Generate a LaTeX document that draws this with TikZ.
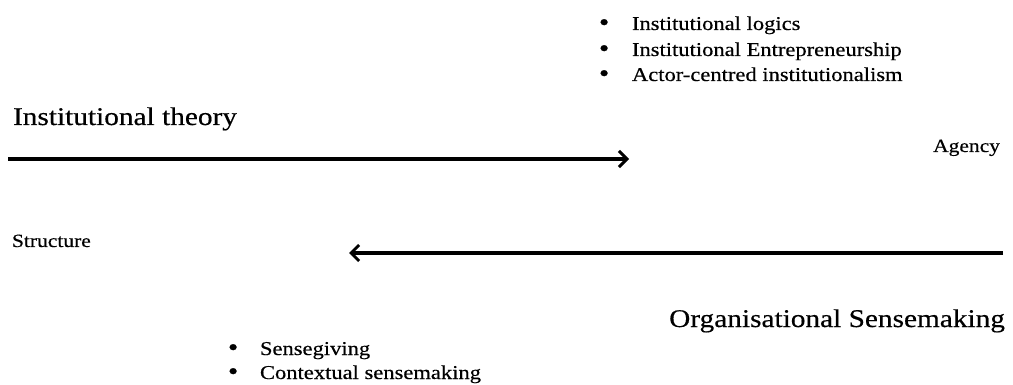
\documentclass[tikz,border=0pt]{standalone}
\usepackage{fontspec}
\setmainfont{Liberation Serif}[FakeStretch=1.15, FakeBold=0.45]
\usetikzlibrary{arrows.meta}

\tikzset{
  txt/.style={inner sep=0pt, outer sep=0pt, text=black},
  heading/.style={txt, font=\fontsize{25.5}{30}\selectfont},
  pole/.style={txt, font=\fontsize{18.7}{22}\selectfont},
  item/.style={txt, font=\fontsize{19.6}{24}\selectfont},
  flow/.style={line width=3.4pt, black,
    -{Straight Barb[length=8pt,width=16pt,line width=3pt]}},
}
\newcommand{\bulletitem}[2]{\makebox[#1][l]{\raisebox{-0.6pt}{\scalebox{1.3}{\textbullet}}}#2}

\begin{document}
\begin{tikzpicture}[x=1pt, y=-1pt]
  \useasboundingbox (0,0) rectangle (1013,385);

  % Institutional theory side: top list, heading and rightward arrow
  \node[item, anchor=base west] (il) at (599,30) {\bulletitem{33pt}{Institutional logics}};
  \node[item, anchor=base west] (ie) at (599,56) {\bulletitem{33pt}{Institutional Entrepreneurship}};
  \node[item, anchor=base west] (ac) at (599,81) {\bulletitem{33pt}{Actor-centred institutionalism}};
  \node[heading, anchor=base west] (it) at (13,125) {Institutional theory};

  \coordinate (itstart) at (8,159);
  \coordinate (itend) at (629,159);
  \draw[flow] (itstart) -- (itend);

  % Poles of the continuum
  \node[pole, anchor=base east] (agency) at (1000,152) {Agency};
  \node[pole, anchor=base west] (structure) at (12,247) {Structure};

  % Organisational sensemaking side: leftward arrow, heading and bottom list
  \coordinate (osstart) at (1003,253);
  \coordinate (osend) at (349,253);
  \draw[flow] (osstart) -- (osend);

  \node[heading, anchor=base east] (os) at (1005,327) {Organisational Sensemaking};
  \node[item, anchor=base west] (sg) at (228,355) {\bulletitem{32pt}{Sensegiving}};
  \node[item, anchor=base west] (cs) at (228,379) {\bulletitem{32pt}{Contextual sensemaking}};
\end{tikzpicture}
\end{document}
